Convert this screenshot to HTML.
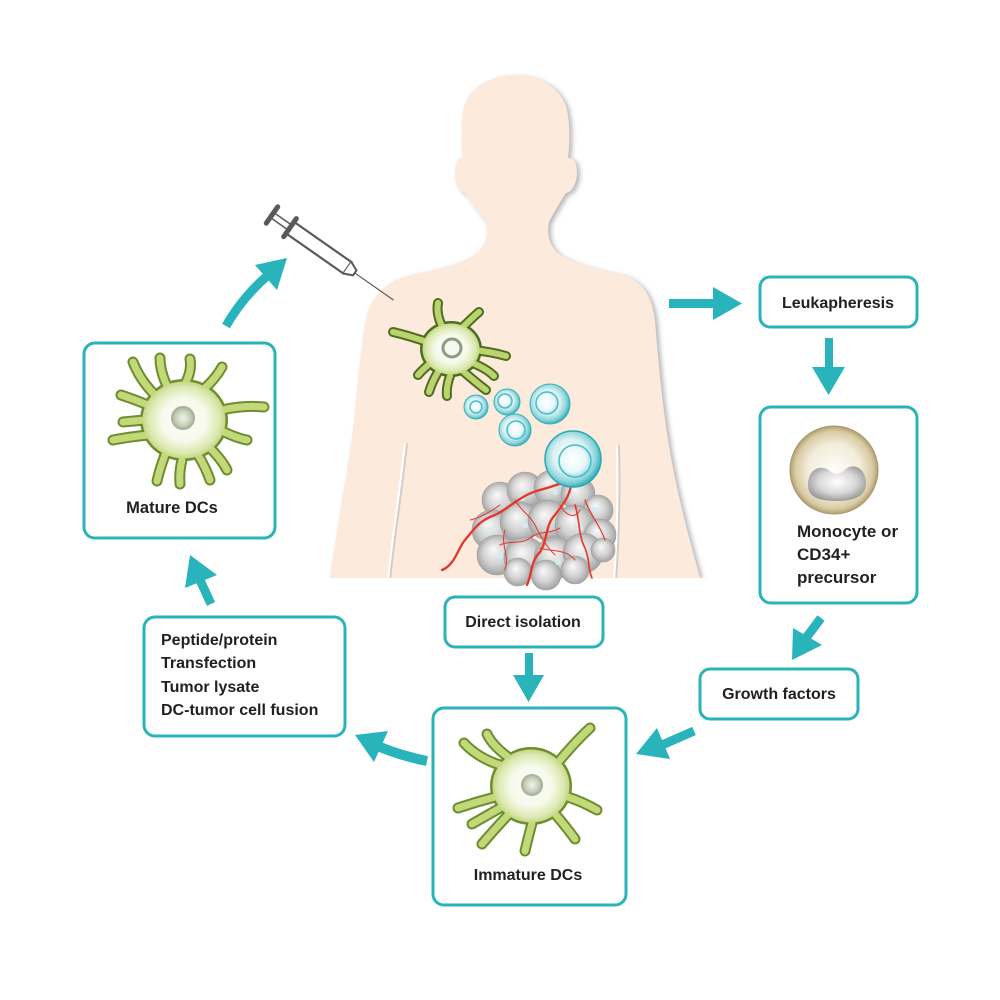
<!DOCTYPE html>
<html><head><meta charset="utf-8"><style>
html,body{margin:0;padding:0;background:#fff;}
svg{display:block;}
text{font-family:"Liberation Sans",Arial,sans-serif;font-weight:bold;fill:#231f20;}
</style></head><body>
<svg width="1000" height="1000" viewBox="0 0 1000 1000" xmlns="http://www.w3.org/2000/svg">
<defs>
 <radialGradient id="dcBody" cx="50%" cy="50%" r="50%">
  <stop offset="0" stop-color="#ffffff"/><stop offset="0.55" stop-color="#f6f9ea"/>
  <stop offset="0.85" stop-color="#dde9b2"/><stop offset="1" stop-color="#c6d886"/>
 </radialGradient>
 <radialGradient id="nucG" cx="50%" cy="50%" r="50%">
  <stop offset="0" stop-color="#f2f4ec"/><stop offset="0.6" stop-color="#c9d1bc"/><stop offset="1" stop-color="#9eab90"/>
 </radialGradient>
 <radialGradient id="blueCell" cx="45%" cy="45%" r="55%">
  <stop offset="0" stop-color="#ffffff"/><stop offset="0.55" stop-color="#dcf2f4"/>
  <stop offset="0.85" stop-color="#86d2d8"/><stop offset="1" stop-color="#38b3bc"/>
 </radialGradient>
 <radialGradient id="blueNuc" cx="45%" cy="45%" r="55%">
  <stop offset="0" stop-color="#ffffff"/><stop offset="0.7" stop-color="#e9f8fa"/><stop offset="1" stop-color="#a5dfe4"/>
 </radialGradient>
 <radialGradient id="tumorG" cx="50%" cy="50%" r="55%" fx="40%" fy="35%">
  <stop offset="0" stop-color="#fafafa"/><stop offset="0.55" stop-color="#d2d2d2"/><stop offset="1" stop-color="#9a9a9a"/>
 </radialGradient>
 <radialGradient id="monoG" cx="50%" cy="50%" r="50%">
  <stop offset="0" stop-color="#fefdf8"/><stop offset="0.6" stop-color="#f2ecdb"/>
  <stop offset="0.88" stop-color="#d9cba3"/><stop offset="1" stop-color="#b09f70"/>
 </radialGradient>
 <radialGradient id="monoNuc" cx="50%" cy="45%" r="55%">
  <stop offset="0" stop-color="#ffffff"/><stop offset="0.6" stop-color="#d8d8d8"/><stop offset="1" stop-color="#9c9c9c"/>
 </radialGradient>
 <filter id="blur" x="-10%" y="-10%" width="120%" height="120%"><feGaussianBlur stdDeviation="2.5"/></filter>
 <clipPath id="bodyClip"><rect x="0" y="0" width="1000" height="578"/></clipPath>
 <path id="body" d="M330,578 C338,520 348,470 354,420 C358,380 361,345 366,318 C373,292 390,279 415,274 C440,269 468,262 479,251 C487,242 488,232 486,222 C478,212 470,201 465,193 C458,192 455,182 455,172 C455,162 458,157 463,158 C461,142 461,124 463,110 C468,88 490,75 515,75 C540,75 562,88 567,110 C570,124 570,142 568,158 C573,157 577,162 577,172 C577,182 573,192 566,193 C561,201 554,212 549,222 C547,232 548,242 556,251 C567,262 595,269 620,274 C642,279 652,296 655,320 C658,360 662,400 668,440 C678,500 690,540 700,578 Z"/>
</defs>

<!-- Body silhouette -->
<g clip-path="url(#bodyClip)">
 <use href="#body" fill="#b8b8b8" transform="translate(3,2)" filter="url(#blur)"/>
 <use href="#body" fill="#fcebdd"/>
 <path d="M407,443 C402,490 394,540 390,580" stroke="#d2ccc6" stroke-width="2" fill="none"/>
 <path d="M405,443 C400,490 392,540 388,580" stroke="#ffffff" stroke-width="2" fill="none"/>
 <path d="M619,445 C620,490 619,540 616,580" stroke="#d2ccc6" stroke-width="2" fill="none"/>
 <path d="M617,445 C618,490 617,540 614,580" stroke="#ffffff" stroke-width="2" fill="none"/>
</g>

<!-- Syringe -->
<g transform="translate(272,215) rotate(35)" stroke="#58595b" fill="none" stroke-linecap="round">
 <line x1="0" y1="-3" x2="22" y2="-3" stroke-width="1.5"/>
 <line x1="0" y1="3" x2="22" y2="3" stroke-width="1.5"/>
 <line x1="0" y1="-10" x2="0" y2="10" stroke-width="5"/>
 <rect x="22" y="-7" width="70" height="14" fill="#fff" stroke-width="2.2"/>
 <line x1="22" y1="-11" x2="22" y2="11" stroke-width="5"/>
 <path d="M92,-7 L101,-3 L101,3 L92,7" fill="#fff" stroke-width="2"/>
 <line x1="101" y1="0" x2="148" y2="0" stroke-width="1.2"/>
</g>

<!-- Torso DC -->
<g stroke-linecap="round" fill="none">
 <g stroke="#4f6d20" stroke-width="10">
  <path d="M430,343 Q410,336 393,332"/><path d="M442,326 Q436,314 438,303"/><path d="M462,328 Q472,318 479,312"/>
  <path d="M474,350 Q492,352 506,356"/><path d="M470,362 Q486,368 494,376"/><path d="M464,372 Q478,384 486,390"/>
  <path d="M450,376 Q446,387 447,396"/><path d="M438,372 Q432,382 429,392"/><path d="M432,362 Q424,368 418,375"/>
 </g>
 <ellipse cx="451" cy="349" rx="31" ry="28" fill="#4f6d20" stroke="none"/>
 <g stroke="#bcd46f" stroke-width="6">
  <path d="M430,343 Q410,336 393,332"/><path d="M442,326 Q436,314 438,303"/><path d="M462,328 Q472,318 479,312"/>
  <path d="M474,350 Q492,352 506,356"/><path d="M470,362 Q486,368 494,376"/><path d="M464,372 Q478,384 486,390"/>
  <path d="M450,376 Q446,387 447,396"/><path d="M438,372 Q432,382 429,392"/><path d="M432,362 Q424,368 418,375"/>
 </g>
 <ellipse cx="451" cy="349" rx="28.5" ry="25.5" fill="url(#dcBody)" stroke="none"/>
 <circle cx="452" cy="348" r="9" fill="#f6f7f0" stroke="#8f9c80" stroke-width="3"/>
</g>

<!-- Blue cells -->
<g stroke="#36b0b8" stroke-width="1">
 <circle cx="476" cy="407" r="12" fill="url(#blueCell)"/>
 <circle cx="476" cy="407" r="6" fill="url(#blueNuc)" stroke="#48bcc4" stroke-width="1.5"/>
 <circle cx="507" cy="402" r="13" fill="url(#blueCell)"/>
 <circle cx="505" cy="401" r="7" fill="url(#blueNuc)" stroke="#48bcc4" stroke-width="1.5"/>
 <circle cx="550" cy="404" r="20" fill="url(#blueCell)"/>
 <circle cx="547" cy="403" r="11" fill="url(#blueNuc)" stroke="#48bcc4" stroke-width="1.5"/>
 <circle cx="515" cy="430" r="16" fill="url(#blueCell)"/>
 <circle cx="516" cy="430" r="9" fill="url(#blueNuc)" stroke="#48bcc4" stroke-width="1.5"/>
</g>

<!-- Tumor -->
<g stroke="#a0a0a0" stroke-width="0.6" fill="url(#tumorG)">
 <circle cx="500" cy="500" r="18"/><circle cx="525" cy="490" r="18"/><circle cx="552" cy="488" r="18"/>
 <circle cx="578" cy="494" r="17"/><circle cx="598" cy="510" r="15"/>
 <circle cx="492" cy="530" r="20"/><circle cx="520" cy="522" r="20"/><circle cx="548" cy="520" r="20"/>
 <circle cx="575" cy="525" r="20"/><circle cx="600" cy="535" r="16"/>
 <circle cx="497" cy="555" r="20"/><circle cx="525" cy="558" r="21"/><circle cx="555" cy="558" r="21"/>
 <circle cx="583" cy="553" r="20"/><circle cx="603" cy="550" r="12"/>
 <circle cx="518" cy="572" r="14"/><circle cx="546" cy="575" r="15"/><circle cx="575" cy="570" r="14"/>
</g>
<g fill="#d4ecf1">
 <circle cx="522" cy="498" r="3"/><circle cx="555" cy="492" r="3"/><circle cx="490" cy="530" r="3"/>
 <circle cx="525" cy="525" r="3"/><circle cx="580" cy="528" r="3"/><circle cx="500" cy="556" r="3"/>
 <circle cx="558" cy="562" r="3"/><circle cx="595" cy="510" r="3"/><circle cx="585" cy="555" r="3"/>
</g>
<g stroke="#e5362c" fill="none" stroke-linecap="round">
 <path d="M442,570 C455,565 458,548 465,540 C475,528 480,520 495,515 C510,508 520,495 540,490 C555,486 565,482 575,478" stroke-width="2.3"/>
 <path d="M527,585 C532,575 530,562 540,552 C548,540 545,525 555,515 C562,505 570,498 572,480" stroke-width="2.3"/>
 <path d="M500,545 C510,540 520,545 530,538 C540,530 548,535 560,528" stroke-width="1"/>
 <path d="M515,500 C520,510 530,515 535,525 C540,535 545,545 555,555" stroke-width="1"/>
 <path d="M585,500 C590,515 600,525 605,540" stroke-width="1.2"/>
 <path d="M575,505 C580,520 578,535 585,548 C590,560 588,570 592,578" stroke-width="1.6"/>
 <path d="M470,520 C480,518 490,512 500,505" stroke-width="1"/>
 <path d="M505,530 C500,545 510,555 505,570" stroke-width="1"/>
 <path d="M560,505 C565,515 575,520 580,510" stroke-width="1"/>
 <path d="M540,548 C550,552 565,548 575,560" stroke-width="1"/>
</g>
<circle cx="573" cy="459" r="28" fill="url(#blueCell)" stroke="#2aa9b2" stroke-width="1.5"/>
<circle cx="575" cy="461" r="16" fill="url(#blueNuc)" stroke="#48bcc4" stroke-width="1.5"/>

<!-- Boxes -->
<g fill="#fff" stroke="#29b3bb" stroke-width="3">
 <rect x="84" y="343" width="191" height="195" rx="11"/>
 <rect x="144" y="617" width="201" height="119" rx="11"/>
 <rect x="760" y="277" width="157" height="50" rx="10"/>
 <rect x="760" y="407" width="157" height="196" rx="11"/>
 <rect x="445" y="597" width="158" height="50" rx="10"/>
 <rect x="700" y="669" width="158" height="50" rx="10"/>
 <rect x="433" y="708" width="193" height="197" rx="11"/>
</g>

<!-- Mature DC -->
<g stroke-linecap="round" fill="none">
 <g stroke="#6d8d2f" stroke-width="11">
  <path d="M155,395 Q140,380 133,362"/><path d="M168,388 Q160,372 160,358"/><path d="M186,382 Q192,370 190,359"/>
  <path d="M205,388 Q216,378 222,367"/><path d="M222,410 Q244,405 264,407"/><path d="M220,430 Q236,438 247,440"/>
  <path d="M210,448 Q222,460 227,470"/><path d="M198,455 Q206,468 210,480"/><path d="M182,460 Q179,472 180,484"/>
  <path d="M165,455 Q160,468 157,481"/><path d="M148,435 Q128,437 113,440"/><path d="M145,420 Q133,421 123,422"/>
  <path d="M148,405 Q133,399 121,395"/>
 </g>
 <ellipse cx="184" cy="420" rx="44" ry="41" fill="#6d8d2f" stroke="none"/>
 <g stroke="#c3d878" stroke-width="7">
  <path d="M155,395 Q140,380 133,362"/><path d="M168,388 Q160,372 160,358"/><path d="M186,382 Q192,370 190,359"/>
  <path d="M205,388 Q216,378 222,367"/><path d="M222,410 Q244,405 264,407"/><path d="M220,430 Q236,438 247,440"/>
  <path d="M210,448 Q222,460 227,470"/><path d="M198,455 Q206,468 210,480"/><path d="M182,460 Q179,472 180,484"/>
  <path d="M165,455 Q160,468 157,481"/><path d="M148,435 Q128,437 113,440"/><path d="M145,420 Q133,421 123,422"/>
  <path d="M148,405 Q133,399 121,395"/>
 </g>
 <ellipse cx="184" cy="420" rx="41.5" ry="38.5" fill="url(#dcBody)" stroke="none"/>
 <circle cx="183" cy="418" r="12" fill="url(#nucG)" stroke="none"/>
</g>

<!-- Immature DC -->
<g stroke-linecap="round" fill="none">
 <g stroke="#6d8d2f" stroke-width="11">
  <path d="M500,765 Q478,758 464,743"/><path d="M508,757 Q492,745 487,734"/><path d="M560,760 Q577,740 590,728"/>
  <path d="M568,797 Q583,802 597,810"/><path d="M556,815 Q567,828 575,839"/><path d="M532,823 Q528,838 525,851"/>
  <path d="M508,815 Q494,830 482,844"/><path d="M495,797 Q476,802 458,808"/><path d="M500,808 Q486,816 472,824"/>
 </g>
 <ellipse cx="531" cy="786" rx="41" ry="39" fill="#6d8d2f" stroke="none"/>
 <g stroke="#c3d878" stroke-width="7">
  <path d="M500,765 Q478,758 464,743"/><path d="M508,757 Q492,745 487,734"/><path d="M560,760 Q577,740 590,728"/>
  <path d="M568,797 Q583,802 597,810"/><path d="M556,815 Q567,828 575,839"/><path d="M532,823 Q528,838 525,851"/>
  <path d="M508,815 Q494,830 482,844"/><path d="M495,797 Q476,802 458,808"/><path d="M500,808 Q486,816 472,824"/>
 </g>
 <ellipse cx="531" cy="786" rx="38.5" ry="36.5" fill="url(#dcBody)" stroke="none"/>
 <circle cx="532" cy="785" r="11" fill="url(#nucG)" stroke="none"/>
</g>

<!-- Monocyte -->
<circle cx="834" cy="470" r="44" fill="url(#monoG)" stroke="#a8976a" stroke-width="1"/>
<path d="M808,485 C808,468 822,464 830,471 C835,475 840,475 846,469 C855,462 866,470 866,483 C866,497 852,501 838,501 C820,501 808,498 808,485Z" fill="url(#monoNuc)"/>

<!-- Arrows -->
<g fill="#29b3bb" stroke="none">
 <rect x="669" y="299" width="46" height="9"/>
 <polygon points="713,287 742,303.5 713,320"/>
 <rect x="825" y="338" width="8" height="30"/>
 <polygon points="812,367 845,367 828.5,395"/>
 <rect x="525" y="653" width="8" height="23"/>
 <polygon points="513,675 544,675 528.5,702"/>
 <polygon points="793,628 822,645 792,660"/>
 <polygon points="657,728 670,759 636,754"/>
 <polygon points="185,588 217,575 190,555"/>
 <polygon points="388,731 374,762 355,735"/>
 <polygon points="255,265 277,290 287,258"/>
</g>
<g stroke="#29b3bb" fill="none" stroke-width="9">
 <line x1="821" y1="618" x2="806" y2="638"/>
 <line x1="694" y1="731" x2="662" y2="745"/>
 <line x1="211" y1="604" x2="200" y2="580"/>
 <path d="M427,761 Q402,756 380,747" stroke-width="10"/>
 <path d="M226,326 Q242,298 267,276"/>
</g>

<!-- Text -->
<text x="172" y="513" font-size="16.5" text-anchor="middle">Mature DCs</text>
<text font-size="16">
 <tspan x="161" y="645">Peptide/protein</tspan>
 <tspan x="161" y="668">Transfection</tspan>
 <tspan x="161" y="692">Tumor lysate</tspan>
 <tspan x="161" y="715">DC-tumor cell fusion</tspan>
</text>
<text x="838" y="308" font-size="16" text-anchor="middle">Leukapheresis</text>
<text font-size="17">
 <tspan x="797" y="537">Monocyte or</tspan>
 <tspan x="797" y="560">CD34+</tspan>
 <tspan x="797" y="583">precursor</tspan>
</text>
<text x="523" y="627" font-size="16" text-anchor="middle">Direct isolation</text>
<text x="779" y="699" font-size="16" text-anchor="middle">Growth factors</text>
<text x="528" y="880" font-size="16" text-anchor="middle">Immature DCs</text>
</svg>
</body></html>
